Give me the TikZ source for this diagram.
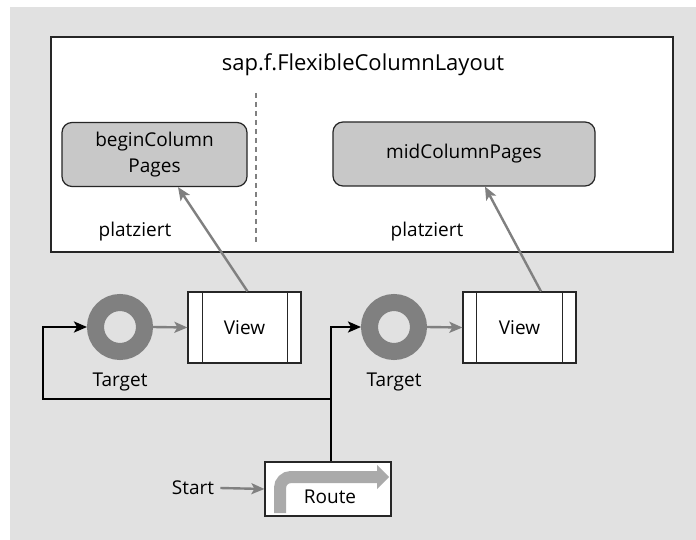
\documentclass[tikz,border=0pt]{standalone}
\usepackage{fontspec}
\setmainfont{Open Sans}
\usetikzlibrary{arrows.meta}
\definecolor{bg}{RGB}{225,225,225}
\definecolor{pagefill}{RGB}{200,200,200}
\definecolor{ringgray}{RGB}{128,128,128}
\definecolor{arrowgray}{RGB}{128,128,128}
\definecolor{routegray}{RGB}{170,170,170}
\begin{document}
\begin{tikzpicture}[x=1pt,y=-1pt,
  lbl/.style={font=\fontsize{19}{26}\selectfont, inner sep=0pt, align=center},
  layoutbox/.style={draw=black!85, line width=1.4pt, fill=white, minimum width=622pt, minimum height=215pt, inner sep=0pt},
  pagebox/.style={draw=black!85, line width=1.2pt, fill=pagefill, rounded corners=10pt, inner sep=0pt, font=\fontsize{19}{26}\selectfont, align=center},
  ringnode/.style={circle, draw=ringgray, line width=17pt, fill=bg, minimum size=49pt, inner sep=0pt},
  viewbox/.style={draw=black!85, line width=1.2pt, fill=white, minimum width=113pt, minimum height=71pt, inner sep=0pt, font=\fontsize{19}{26}\selectfont},
  routebox/.style={draw=black!85, line width=1.2pt, fill=white, minimum width=126pt, minimum height=54pt, inner sep=0pt},
  grayarrow/.style={draw=arrowgray, line width=2.4pt, -{Stealth[length=13pt,width=11pt,inset=3pt]}},
  blackarrow/.style={draw=black, line width=2.4pt, -{Stealth[length=13pt,width=11pt,inset=3pt]}},
  blackline/.style={draw=black, line width=2.4pt},
  divider/.style={draw=arrowgray, line width=1.2pt, dash pattern=on 5pt off 4pt},
  innerline/.style={draw=black!85, line width=1.4pt}
]
\useasboundingbox (0,0) rectangle (696,540);
\fill[bg] (10,7) rectangle (696,540);

% layout container
\node[layoutbox] (layout) at (362,144.5) {};
\node[lbl, font=\fontsize{22}{26}\selectfont, anchor=base] (title) at (363,71) {sap.f.FlexibleColumnLayout};
\coordinate (dtop) at (256,93);
\coordinate (dbot) at (256,244);
\draw[divider] (dtop) -- (dbot);

\node[pagebox, minimum width=185pt, minimum height=64pt] (begin) at (154.5,154.5) {beginColumn\\Pages};
\node[pagebox, minimum width=262pt, minimum height=64pt] (mid) at (464,154) {midColumnPages};
\node[lbl] (pl1) at (135,232) {platziert};
\node[lbl] (pl2) at (427,232) {platziert};

% targets and views
\node[ringnode] (t1) at (120,327) {};
\node[ringnode] (t2) at (394,327) {};
\node[lbl] (tl1) at (120,382) {Target};
\node[lbl] (tl2) at (394,382) {Target};

\node[viewbox] (v1) at (244.5,327.5) {View};
\node[viewbox] (v2) at (519.5,327.5) {View};
\draw[innerline] ([xshift=15pt]v1.north west) -- ([xshift=15pt]v1.south west);
\draw[innerline] ([xshift=-14pt]v1.north east) -- ([xshift=-14pt]v1.south east);
\draw[innerline] ([xshift=14pt]v2.north west) -- ([xshift=14pt]v2.south west);
\draw[innerline] ([xshift=-14pt]v2.north east) -- ([xshift=-14pt]v2.south east);

\draw[grayarrow] (t1.east) -- (v1.west);
\draw[grayarrow] (t2.east) -- (v2.west);
\draw[grayarrow] ([xshift=3pt]v1.north) -- ([xshift=23.5pt]begin.south);
\draw[grayarrow] ([xshift=21.5pt]v2.north) -- ([xshift=21pt]mid.south);

% route
\node[routebox] (route) at (328,489) {};
\draw[routegray, line width=12pt, rounded corners=11pt] (280,513) -- (280,477) -- (378,477);
\fill[routegray] (377,465) -- (389,477) -- (377,489) -- cycle;
\node[lbl] (routetext) at (330,497) {Route};
\node[lbl] (start) at (193,488) {Start};
\draw[grayarrow] ([xshift=6pt]start.east) -- (route.west);

% black connectors
\coordinate (j) at (331,399);
\coordinate (lft) at (43,399);
\draw[blackline] (route.north -| j) -- (j);
\draw[blackarrow] (j) -- (lft) |- (t1.west);
\draw[blackarrow] (j) |- (t2.west);
\end{tikzpicture}
\end{document}
